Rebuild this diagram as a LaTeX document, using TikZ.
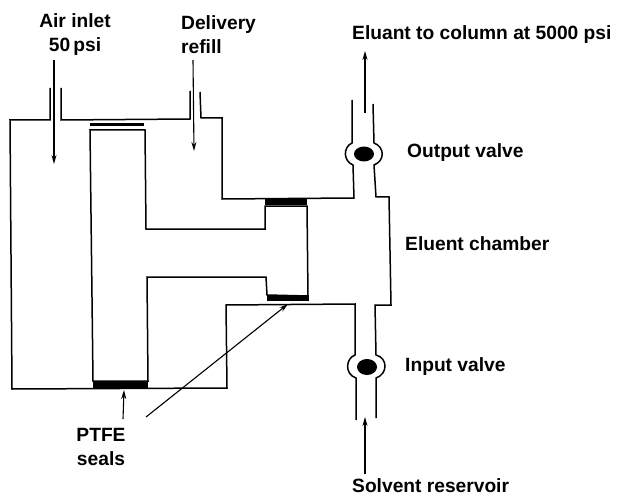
\documentclass[tikz,border=0pt]{standalone}
\usepackage{fontspec}
\setmainfont{Liberation Sans}
\usepackage{tikz}
\usetikzlibrary{shapes.geometric,arrows.meta,positioning}
\tikzset{
  wall/.style={line width=1.5pt, line join=miter},
  seal/.style={line width=#1, line cap=butt},
  arrow/.style={-{Stealth[length=9pt, width=5pt]}, line width=1.1pt},
  ball/.style={ellipse, fill=black, inner sep=0pt},
  caption/.style={font=\fontsize{19.2}{24}\selectfont\bfseries, inner sep=0pt},
  captionleft/.style={caption, anchor=west},
}

\begin{document}
\begin{tikzpicture}[x=1pt, y=-1pt]
  \useasboundingbox (0,0) rectangle (626,497);

  % Cylinder and chamber
  \draw[wall] (50,88) -- (50,120) -- (10,120) -- (12,389) -- (227,388) -- (226,305)
    -- (355,304) -- (355,355) .. controls (346,358) and (344,374) .. (356,378) -- (356,420);
  \draw[wall] (376,418) -- (376,378) .. controls (388,374) and (388,358) .. (376,355)
    -- (375,305) -- (391,305) -- (389,197) -- (376,197) -- (374,165)
    .. controls (385,161) and (385,147) .. (374,143) -- (373,104);
  \draw[wall] (352,100) -- (352,143) .. controls (343,147) and (343,161) .. (353,165)
    -- (354,198) -- (222,199) -- (222,118) -- (201,118) -- (200,92);
  \draw[wall] (190,91) -- (190,119) -- (61,120) -- (61,88);

  % Piston
  \draw[wall] (90,130) -- (145,130) -- (146,229) -- (265,229) -- (265,206) -- (307,206)
    -- (308,296) -- (267,295) -- (266,277) -- (147,277) -- (148,381) -- (93,381) -- cycle;

  % Seals
  \draw[seal=3.5pt] (90,124.5) -- (144,124.5);
  \draw[seal=6pt] (265,201.5) -- (307,201.5);
  \draw[seal=6pt] (267,298) -- (309,298);
  \draw[seal=7pt] (93,384) -- (148,384);

  % Valves
  \node[ball, minimum width=20pt, minimum height=15pt] (outball) at (364,154) {};
  \node[ball, minimum width=20pt, minimum height=16pt] (inball) at (367,367) {};

  % Labels
  \node[caption, align=center] (air) at (75,35) {Air inlet\\50\,psi};
  \node[captionleft, align=left] (delivery) at (181,35) {Delivery\\refill};
  \node[captionleft] (eluant) at (352,35) {Eluant to column at 5000 psi};
  \node[captionleft] (output) at (407,153) {Output valve};
  \node[captionleft] (chamber) at (405,244) {Eluent chamber};
  \node[captionleft] (input) at (405,367) {Input valve};
  \node[captionleft] (solvent) at (352,486) {Solvent reservoir};
  \node[caption, align=center] (ptfe) at (101,447) {PTFE\\seals};

  % Free ends of the arrows
  \coordinate (airend) at (54,164);
  \coordinate (deliveryend) at (194,151);
  \coordinate (eluantend) at (365,51);
  \coordinate (solventend) at (365,417);
  \coordinate (lowseal) at (124,390);
  \coordinate (upseal) at (288,304);

  % Arrows
  \draw[arrow] (54,60) -- (airend);
  \draw[arrow] (193,60) -- (deliveryend);
  \draw[arrow] (365,113) -- (eluantend);
  \draw[arrow] (365,474) -- (solventend);
  \draw[arrow] (123,419) -- (lowseal);
  \draw[arrow] (146,417) -- (upseal);

\end{tikzpicture}
\end{document}
